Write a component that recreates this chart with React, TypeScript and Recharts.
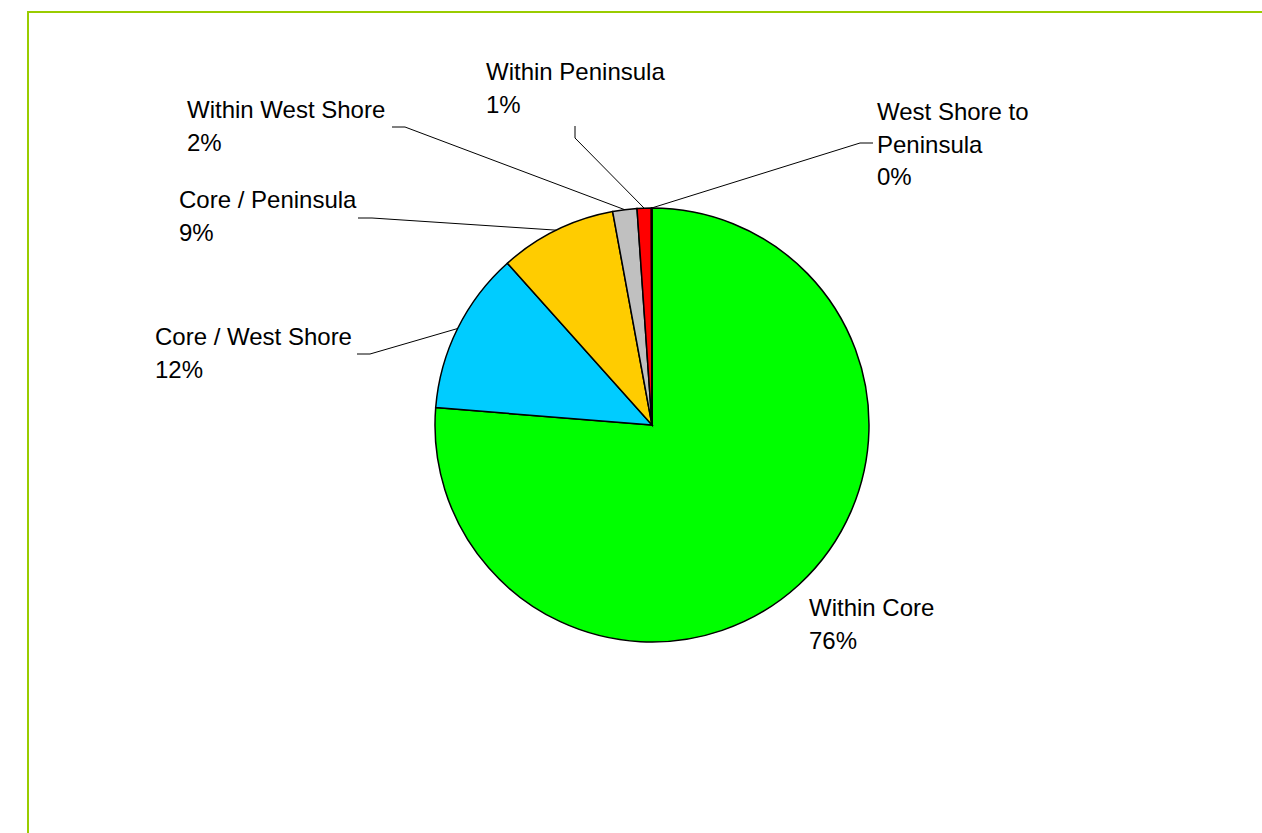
import { PieChart, Pie, Cell } from 'recharts';

const categories = [
  'Within Core',
  'Core / West Shore',
  'Core / Peninsula',
  'Within West Shore',
  'Within Peninsula',
  'West Shore to Peninsula',
];
const shares = [76.2, 12.1, 8.7, 1.8, 1.05, 0.05];
const colors = ['#00FF00', '#00CCFF', '#FFCC00', '#C0C0C0', '#FF0000', '#9999FF'];

// label text lines (percent gets appended as last line)
const labelLines = [
  ['Within Core'],
  ['Core / West Shore'],
  ['Core / Peninsula'],
  ['Within West Shore'],
  ['Within Peninsula'],
  ['West Shore to', 'Peninsula'],
];

// label placement (text left x, first baseline y) and leader line start/elbow
const labelX = [809, 155, 179, 187, 486, 877];
const labelY = [616, 345, 208, 118, 80, 120];
const leaderStart: (number[] | null)[] = [null, [357, 354], [358, 218], [392, 127], [575, 126], [873, 143]];
const leaderElbow: (number[] | null)[] = [null, [370, 354], [372, 218], [405, 127], [575, 138], [860, 143]];

const data = categories.map((name, i) => ({ name, value: shares[i] }));

const RAD = Math.PI / 180;

function renderLabel(props: any) {
  const { cx, cy, midAngle, outerRadius, index, percent } = props;
  const lines = [...labelLines[index], `${Math.round(percent * 100)}%`];
  const start = leaderStart[index];
  const elbow = leaderElbow[index];
  const ex = cx + outerRadius * Math.cos(-midAngle * RAD);
  const ey = cy + outerRadius * Math.sin(-midAngle * RAD);
  return (
    <g key={`lbl-${index}`}>
      {start && elbow && (
        <polyline
          points={`${start[0]},${start[1]} ${elbow[0]},${elbow[1]} ${ex},${ey}`}
          fill="none"
          stroke="#000"
          strokeWidth={1}
        />
      )}
      <text
        x={labelX[index]}
        y={labelY[index]}
        fill="#000"
        fontSize={24}
        fontFamily="'Liberation Sans', Arial, sans-serif"
        textAnchor="start"
      >
        {lines.map((l, j) => (
          <tspan key={j} x={labelX[index]} dy={j === 0 ? 0 : 32.5}>
            {l}
          </tspan>
        ))}
      </text>
    </g>
  );
}

export default function App() {
  return (
    <div style={{ position: 'relative', width: 1262, height: 833, overflow: 'hidden', background: '#fff' }}>
      <style>{'body{margin:0}'}</style>
      <div
        style={{
          position: 'absolute',
          left: 27,
          top: 11,
          width: 1300,
          height: 900,
          borderTop: '2px solid #99CC00',
          borderLeft: '2px solid #99CC00',
        }}
      />
      <div style={{ position: 'absolute', left: 0, top: 0 }}>
        <PieChart width={1262} height={833} margin={{ top: 0, right: 0, bottom: 0, left: 0 }}>
          <Pie
            data={data}
            dataKey="value"
            nameKey="name"
            cx={652}
            cy={425}
            outerRadius={217}
            startAngle={90}
            endAngle={-270}
            stroke="#000"
            strokeWidth={1.5}
            label={renderLabel}
            labelLine={false}
            isAnimationActive={false}
          >
            {data.map((d, i) => (
              <Cell key={d.name} fill={colors[i]} />
            ))}
          </Pie>
        </PieChart>
      </div>
    </div>
  );
}
